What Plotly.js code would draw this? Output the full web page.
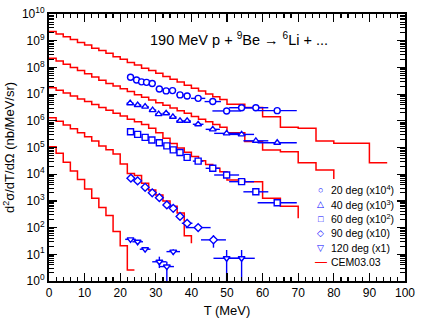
<!DOCTYPE html>
<html>
<head>
<meta charset="utf-8">
<script src="https://cdn.plot.ly/plotly-3.0.1.min.js"></script>
<style>
  html, body { margin: 0; padding: 0; background: #fff; }
  #chart { width: 423px; height: 327px; }
</style>
</head>
<body>
<div id="chart"></div>
<script>
// 190 MeV p + 9Be -> 6Li: double-differential spectra (data, scaled per angle) vs CEM03.03 histograms.

// ---- measured points: T (MeV), half bin width, cross section (nb/MeV/sr, scaled), error ----
const t20 = [22.9, 24.6, 26.0, 27.4, 29.0, 31.0, 32.9, 34.7, 36.8, 38.8, 41.9, 46.0, 49.9, 54.1, 58.1, 64.1];
const dt20 = [1, 1, 1, 1, 1, 1, 1, 1, 1, 1, 2, 2.3, 4, 3.5, 3.5, 5.5];
const xs20 = [4.27e7, 3.39e7, 2.88e7, 2.75e7, 2.51e7, 1.55e7, 1.32e7, 1.35e7, 9.33e6, 8.51e6, 6.92e6, 5.25e6, 2.34e6, 3.09e6, 3.09e6, 2.40e6];
const dxs20 = [3e6, 2.5e6, 2e6, 2e6, 2e6, 1.2e6, 1e6, 1e6, 7e5, 7e5, 5e5, 4e5, 3e5, 3e5, 3e5, 3e5];

const t40 = [22.8, 24.9, 27.0, 29.1, 30.8, 32.9, 34.8, 36.8, 38.8, 41.9, 46.0, 49.9, 54.1, 58.1, 64.1];
const dt40 = [1, 1, 1, 1, 1, 1, 1, 1, 1, 1.5, 2, 3.5, 3.5, 3.5, 5.5];
const xs40 = [4.57e6, 3.89e6, 3.39e6, 2.51e6, 1.78e6, 1.91e6, 1.41e6, 1.0e6, 1.0e6, 7.41e5, 4.79e5, 3.39e5, 3.09e5, 1.78e5, 1.51e5];
const dxs40 = [3e5, 3e5, 2.5e5, 2e5, 1.5e5, 1.5e5, 1.2e5, 1e5, 1e5, 7e4, 5e4, 4e4, 4e4, 2.5e4, 2.5e4];

const t60 = [22.9, 24.9, 27.0, 28.9, 31.0, 33.1, 34.9, 36.8, 38.8, 41.9, 46.0, 49.9, 54.1, 58.1, 64.1];
const dt60 = [1, 1, 1, 1, 1, 1, 1, 1, 1, 1.5, 2, 3.5, 3.5, 3.5, 5.5];
const xs60 = [3.89e5, 3.09e5, 2.40e5, 1.91e5, 1.51e5, 1.15e5, 8.13e4, 6.46e4, 4.27e4, 3.09e4, 1.66e4, 9.33e3, 5.25e3, 2.19e3, 851];
const dxs60 = [2.5e4, 2e4, 1.6e4, 1.3e4, 1e4, 8e3, 6e3, 5e3, 3.5e3, 2.5e3, 1.5e3, 1e3, 600, 300, 150];

const t90 = [23.0, 24.9, 27.0, 29.0, 31.0, 33.1, 34.9, 36.8, 38.8, 41.9, 46.2];
const dt90 = [1, 1, 1, 1, 1, 1, 1, 1, 1.5, 3.5, 3.5];
const xs90 = [7.08e3, 5.62e3, 3.24e3, 2.0e3, 1.32e3, 708, 525, 263, 145, 100, 34.7];
const dxs90 = [600, 500, 300, 200, 150, 90, 70, 40, 30, 25, 17];

const t120 = [22.9, 24.9, 27.0, 31.0, 33.1, 34.9, 49.9, 54.1];
const dt120 = [1.5, 1.5, 1.5, 2, 2, 1.9, 3.7, 3.7];
const xs120 = [36.3, 29.5, 15.5, 5.25, 3.47, 12.6, 7.08, 7.08];
const dxs120Up = [4, 4, 3, 2.9, 1.8, 3, 7.4, 7.4];
const dxs120Down = [4, 4, 3, 2.2, 3.3, 3, 6.6, 6.6];

// ---- CEM03.03 histograms: bin edges, and the level at each edge (last entry = level after the final edge) ----
const cemEdges20 = [0, 2, 4, 6, 8, 10, 12, 14, 16, 18, 20, 22, 24, 26, 28, 30, 32, 34, 36, 38, 40, 42, 44, 46, 48, 50, 55, 60, 65, 70, 75, 80, 90, 95];
const cem20 = [2.19e9, 1.78e9, 1.41e9, 1.12e9, 8.51e8, 6.92e8, 5.25e8, 4.27e8, 3.39e8, 2.51e8, 2.0e8, 1.51e8, 1.23e8, 9.33e7, 7.59e7, 6.03e7, 4.57e7, 3.63e7, 2.82e7, 2.14e7, 1.66e7, 1.32e7, 1.0e7, 7.94e6, 6.31e6, 4.17e6, 3.16e6, 1.41e6, 5.75e5, 5.25e5, 1.74e5, 1.45e5, 2.69e4, 2.69e4];

const cemEdges40 = [0, 2, 4, 6, 8, 10, 12, 14, 16, 18, 20, 22, 24, 26, 28, 30, 32, 34, 36, 38, 40, 42, 44, 46, 48, 50, 55, 60, 65, 70, 75, 80];
const cem40 = [2.19e8, 1.74e8, 1.32e8, 1.0e8, 7.59e7, 5.75e7, 4.37e7, 3.31e7, 2.51e7, 2.0e7, 1.58e7, 1.26e7, 9.55e6, 7.59e6, 6.03e6, 4.79e6, 3.80e6, 3.02e6, 2.40e6, 1.91e6, 1.45e6, 1.15e6, 9.12e5, 7.24e5, 5.75e5, 3.55e5, 1.66e5, 8.13e4, 6.92e4, 2.69e4, 1.45e4, 6.61e3];

const cemEdges60 = [0, 2, 4, 6, 8, 10, 12, 14, 16, 18, 20, 22, 24, 26, 28, 30, 32, 34, 36, 38, 40, 42, 44, 46, 48, 50, 55, 60, 65, 70];
const cem60 = [1.74e7, 1.38e7, 1.10e7, 8.51e6, 6.61e6, 5.25e6, 4.07e6, 3.16e6, 2.51e6, 1.91e6, 1.51e6, 1.15e6, 9.12e5, 7.24e5, 5.25e5, 3.55e5, 2.24e5, 1.41e5, 9.55e4, 6.61e4, 4.57e4, 3.16e4, 2.29e4, 1.66e4, 1.23e4, 6.03e3, 5.25e3, 1.26e3, 631, 224];

const cemEdges90 = [0, 2, 4, 6, 8, 10, 12, 14, 16, 18, 20, 22, 24, 26, 28, 30, 32, 34, 36, 38, 40];
const cem90 = [1.29e6, 9.55e5, 6.92e5, 5.01e5, 3.55e5, 2.51e5, 1.74e5, 1.15e5, 8.32e4, 5.75e4, 2.40e4, 1.07e4, 8.91e3, 4.57e3, 2.57e3, 1.66e3, 1.0e3, 631, 355, 49, 25.7];

const cemEdges120 = [0, 2, 4, 6, 8, 10, 12, 14, 16, 18, 20, 22, 24];
const cem120 = [1.07e5, 6.03e4, 2.82e4, 1.32e4, 6.31e3, 2.82e3, 1.26e3, 562, 282, 70.8, 20.9, 2.57, 2.57];

const legendLabels = ['20 deg (x10<sup>4</sup>)', '40 deg (x10<sup>3</sup>)', '60 deg (x10<sup>2</sup>)', '90 deg (x10)', '120 deg (x1)', 'CEM03.03'];

const BLUE = '#0000ff';
const RED = '#ff0000';

function cemTrace(edges, levels) {
  return {
    x: edges, y: levels, mode: 'lines', type: 'scatter',
    line: { shape: 'hv', color: RED, width: 1.5 },
    hoverinfo: 'skip'
  };
}

function dataTrace(t, dt, xs, up, down, symbol) {
  return {
    x: t, y: xs, mode: 'markers', type: 'scatter',
    marker: { symbol: symbol, size: 6, color: '#fff', line: { color: BLUE, width: 1.4 } },
    error_x: { type: 'data', array: dt, color: BLUE, thickness: 1.4, width: 0 },
    error_y: { type: 'data', array: up, arrayminus: down || up, color: BLUE, thickness: 1.4, width: 0 }
  };
}

const traces = [
  cemTrace(cemEdges20, cem20),
  cemTrace(cemEdges40, cem40),
  cemTrace(cemEdges60, cem60),
  cemTrace(cemEdges90, cem90),
  cemTrace(cemEdges120, cem120),
  dataTrace(t20, dt20, xs20, dxs20, null, 'circle'),
  dataTrace(t40, dt40, xs40, dxs40, null, 'triangle-up'),
  dataTrace(t60, dt60, xs60, dxs60, null, 'square'),
  dataTrace(t90, dt90, xs90, dxs90, null, 'diamond'),
  dataTrace(t120, dt120, xs120, dxs120Up, dxs120Down, 'triangle-down')
];

// decade ticks with 10^n labels, minor ticks at 2..9 within each decade
const yMajor = [], yMajorText = [], yMinor = [];
for (let k = 0; k <= 10; k++) {
  yMajor.push(Math.pow(10, k));
  yMajorText.push('10<sup>' + k + '</sup>');
  if (k < 10) for (let m = 2; m <= 9; m++) yMinor.push(m * Math.pow(10, k));
}

// legend drawn as text rows (compact spacing like the original)
const glyphs = ['○', '△', '□', '◇', '▽', '—'];
const annotations = [{
  text: '190 MeV p + <sup>9</sup>Be → <sup>6</sup>Li + ...',
  xref: 'paper', yref: 'paper', x: 0.534, y: 0.905, showarrow: false,
  xanchor: 'center', yanchor: 'middle',
  font: { size: 14.5, color: '#000' }
}];
legendLabels.forEach((label, i) => {
  const y = 0.341 - i * 0.0543;
  annotations.push({
    text: glyphs[i], xref: 'paper', yref: 'paper', x: 0.764, y: y, showarrow: false,
    xanchor: 'center', yanchor: 'middle',
    font: { size: i === 5 ? 12 : 9, color: i === 5 ? RED : BLUE }
  });
  annotations.push({
    text: label, xref: 'paper', yref: 'paper', x: 0.786, y: y, showarrow: false,
    xanchor: 'left', yanchor: 'middle',
    font: { size: 10.5, color: '#000' }
  });
});

const axisCommon = {
  ticks: 'inside', tickcolor: '#000', tickwidth: 1.2,
  showline: true, linecolor: '#000', linewidth: 2, mirror: 'allticks',
  showgrid: false, zeroline: false, fixedrange: true,
  tickfont: { size: 12, color: '#000' }
};

const layout = {
  width: 423, height: 327,
  margin: { l: 49, r: 18, t: 14, b: 46 },
  paper_bgcolor: '#fff', plot_bgcolor: '#fff',
  font: { family: 'Liberation Sans, Arial, sans-serif', size: 12, color: '#000' },
  showlegend: false,
  xaxis: Object.assign({}, axisCommon, {
    range: [0, 100], dtick: 10, ticklen: 8,
    minor: { dtick: 2, ticks: 'inside', ticklen: 4, tickcolor: '#000', tickwidth: 1.2 },
    title: { text: 'T (MeV)', font: { size: 13 }, standoff: 6 }
  }),
  yaxis: Object.assign({}, axisCommon, {
    type: 'log', range: [0, 10], tickmode: 'array', tickvals: yMajor, ticktext: yMajorText, ticklen: 8,
    minor: { tickmode: 'array', tickvals: yMinor, ticks: 'inside', ticklen: 5, tickcolor: '#000', tickwidth: 1 },
    title: { text: 'd<sup>2</sup>σ/dT/dΩ (nb/MeV/sr)', font: { size: 13 }, standoff: 4 }
  }),
  annotations: annotations
};

Plotly.newPlot('chart', traces, layout, { displayModeBar: false, staticPlot: true });
</script>
</body>
</html>
